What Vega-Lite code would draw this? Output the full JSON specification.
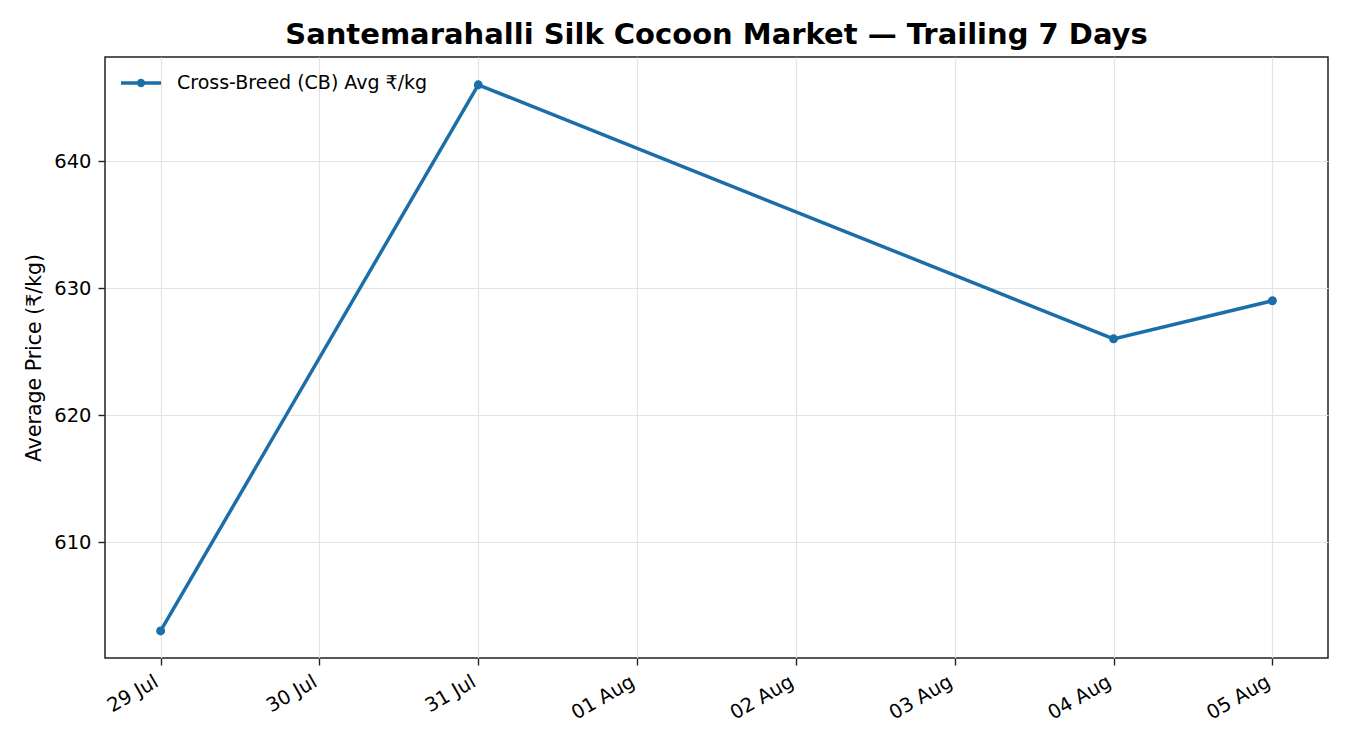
{
  "$schema": "https://vega.github.io/schema/vega-lite/v6.json",
  "width": 1223,
  "height": 601,
  "autosize": {"type": "none"},
  "padding": {"left": 105, "top": 57, "right": 22, "bottom": 92},
  "background": "white",
  "title": {
    "text": "Santemarahalli Silk Cocoon Market — Trailing 7 Days",
    "font": "DejaVu Sans",
    "fontSize": 29,
    "fontWeight": "bold",
    "color": "black",
    "anchor": "middle",
    "offset": 7
  },
  "config": {
    "view": {"stroke": "#222222", "strokeWidth": 1.5},
    "font": "DejaVu Sans",
    "axis": {
      "labelFont": "DejaVu Sans",
      "titleFont": "DejaVu Sans",
      "labelFontSize": 19.5,
      "titleFontSize": 20.5,
      "titleFontWeight": "normal",
      "labelColor": "black",
      "titleColor": "black",
      "domain": false,
      "tickColor": "#222222",
      "tickSize": 7,
      "tickWidth": 1.4,
      "grid": true,
      "gridColor": "#e3e3e3",
      "gridWidth": 1.2
    }
  },
  "data": {
    "values": [
      {"date": "2025-07-29", "price": 603, "series": "Cross-Breed (CB) Avg ₹/kg"},
      {"date": "2025-07-31", "price": 646, "series": "Cross-Breed (CB) Avg ₹/kg"},
      {"date": "2025-08-04", "price": 626, "series": "Cross-Breed (CB) Avg ₹/kg"},
      {"date": "2025-08-05", "price": 629, "series": "Cross-Breed (CB) Avg ₹/kg"}
    ]
  },
  "mark": {"type": "line", "strokeWidth": 3.5, "point": {"size": 80, "filled": true}},
  "encoding": {
    "x": {
      "field": "date",
      "type": "temporal",
      "scale": {
        "type": "utc",
        "domain": [
          {"year": 2025, "month": 7, "date": 28, "hours": 15, "minutes": 36, "utc": true},
          {"year": 2025, "month": 8, "date": 5, "hours": 8, "minutes": 24, "utc": true}
        ]
      },
      "axis": {
        "title": null,
        "format": "%d %b",
        "tickCount": {"interval": "day", "step": 1},
        "labelAngle": -30,
        "labelAlign": "right",
        "labelBaseline": "top",
        "labelPadding": 7,
        "labelOffset": -9
      }
    },
    "y": {
      "field": "price",
      "type": "quantitative",
      "scale": {"domain": [600.87, 648.19], "nice": false, "zero": false},
      "axis": {
        "title": "Average Price (₹/kg)",
        "values": [610, 620, 630, 640],
        "labelPadding": 7,
        "titlePadding": 9
      }
    },
    "color": {
      "field": "series",
      "type": "nominal",
      "scale": {"range": ["#1c6ea8"]},
      "legend": {
        "title": null,
        "orient": "none",
        "legendX": 14,
        "legendY": 4,
        "labelFont": "DejaVu Sans",
        "labelFontSize": 19,
        "labelColor": "black",
        "labelLimit": 0,
        "symbolType": "M-1,0H1M-0.12,0A0.12,0.12 0 1,0 0.12,0A0.12,0.12 0 1,0 -0.12,0Z",
        "symbolSize": 1600,
        "symbolStrokeWidth": 3.5,
        "symbolFillColor": "#1c6ea8",
        "symbolStrokeColor": "#1c6ea8",
        "labelOffset": 14
      }
    }
  }
}
